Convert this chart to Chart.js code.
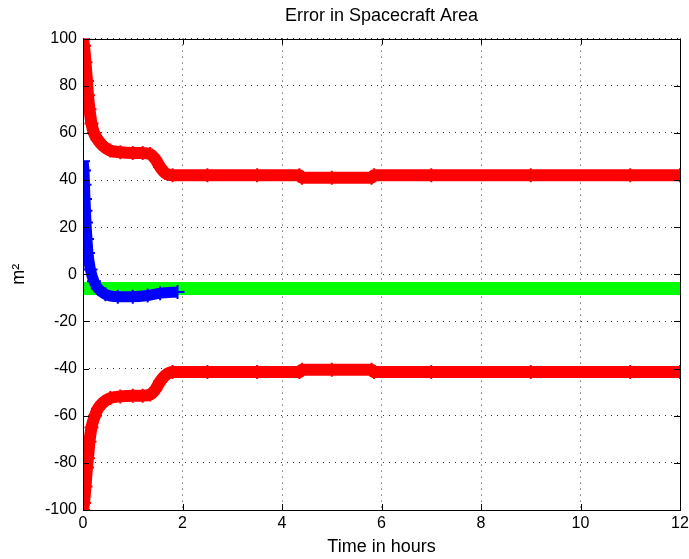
<!DOCTYPE html>
<html>
<head>
<meta charset="utf-8">
<script src="https://cdn.jsdelivr.net/npm/chart.js@4"></script>
<style>
  html, body { margin: 0; padding: 0; background: #fff; }
  #wrap { width: 689px; height: 559px; }
</style>
</head>
<body>
<div id="wrap"><canvas id="myChart" width="689" height="559"></canvas></div>
<script>
// values (hours, m^2)
const upperX = [0, 0.02, 0.05, 0.08, 0.1, 0.13, 0.17, 0.22, 0.3, 0.4, 0.55, 0.75, 1.0, 1.2, 1.35, 1.45, 1.55, 1.65, 1.8, 2.5, 3.5, 4.35, 4.4, 5.0, 5.8, 5.85, 7, 9, 11, 12];
const upperY = [100, 97, 90, 82, 76, 70, 64, 60, 57, 54.5, 52.5, 51.8, 51.5, 51.5, 51, 49, 45.5, 43, 42, 42, 42, 42, 41, 41, 41, 42, 42, 42, 42, 42];
const lowerX = [0, 0.02, 0.05, 0.08, 0.1, 0.13, 0.17, 0.24, 0.3, 0.4, 0.55, 0.75, 1.0, 1.2, 1.35, 1.45, 1.55, 1.65, 1.8, 2.5, 3.5, 4.35, 4.4, 5.0, 5.8, 5.85, 7, 9, 11, 12];
const lowerY = [-100, -97, -90, -82, -78, -71, -65, -60, -57, -54.5, -52.5, -51.8, -51.5, -51.5, -51, -49, -45.5, -43, -41.5, -41.5, -41.5, -41.5, -40.5, -40.5, -40.5, -41.5, -41.5, -41.5, -41.5, -41.5];
const estX = [0, 0.02, 0.03, 0.04, 0.05, 0.06, 0.08, 0.1, 0.15, 0.22, 0.3, 0.45, 0.7, 1.0, 1.3, 1.55, 1.9];
const estY = [48, 44, 38, 32, 27, 22, 15, 9, 2, -3, -6, -8.5, -9.5, -9.5, -9, -8, -7.5];
const meanX = [0, 12];
const meanY = [-6, -6];
const xTicks = [0, 2, 4, 6, 8, 10, 12];
const yTicks = [-100, -80, -60, -40, -20, 0, 20, 40, 60, 80, 100];

const pts = (xs, ys) => xs.map((x, i) => ({x: x, y: ys[i]}));
const FONT = 'Liberation Sans, Arial, sans-serif';

// matlab-style box with inward ticks
const boxPlugin = {
  id: 'box',
  afterDatasetsDraw(chart) {
    const {ctx, chartArea: a, scales: {x, y}} = chart;
    ctx.save();
    ctx.strokeStyle = '#000';
    ctx.lineWidth = 1;
    ctx.beginPath();
    xTicks.forEach(v => {
      const px = Math.round(x.getPixelForValue(v)) + 0.5;
      ctx.moveTo(px, a.bottom); ctx.lineTo(px, a.bottom - 6);
      ctx.moveTo(px, a.top); ctx.lineTo(px, a.top + 6);
    });
    yTicks.forEach(v => {
      const py = Math.round(y.getPixelForValue(v)) + 0.5;
      ctx.moveTo(a.left, py); ctx.lineTo(a.left + 6, py);
      ctx.moveTo(a.right, py); ctx.lineTo(a.right - 6, py);
    });
    ctx.stroke();
    ctx.strokeRect(Math.round(a.left) + 0.5, Math.round(a.top) + 0.5, Math.round(a.right - a.left), Math.round(a.bottom - a.top));
    ctx.restore();
  }
};

const line = (label, data, color, width, marker) => ({
  label: label,
  data: data,
  borderColor: color,
  backgroundColor: color,
  borderWidth: width,
  pointStyle: 'cross',
  pointRadius: marker ? 7 : 0,
  pointBorderWidth: 2,
  pointBorderColor: color,
  cubicInterpolationMode: 'monotone',
  borderCapStyle: 'butt',
  fill: false
});

new Chart(document.getElementById('myChart').getContext('2d'), {
  type: 'line',
  data: {
    datasets: [
      line('upper bound', pts(upperX, upperY), '#ff0000', 12, true),
      line('lower bound', pts(lowerX, lowerY), '#ff0000', 12, true),
      line('estimate error', pts(estX, estY), '#0000ff', 11, true),
      line('mean', pts(meanX, meanY), '#00ff00', 13, false)
    ]
  },
  options: {
    responsive: false,
    animation: false,
    layout: {padding: {left: 0, right: 8, top: 0, bottom: 0}},
    plugins: {
      legend: {display: false},
      tooltip: {enabled: false},
      title: {
        display: true,
        fullSize: false,
        text: 'Error in Spacecraft Area',
        color: '#000',
        font: {family: FONT, size: 18, weight: 'normal'},
        padding: {top: 5, bottom: 12}
      }
    },
    scales: {
      x: {
        type: 'linear',
        min: 0, max: 12,
        afterBuildTicks: s => { s.ticks = xTicks.map(v => ({value: v})); },
        afterFit: s => { s.height = 49; s.paddingLeft = 0; s.paddingRight = 0; },
        grid: {color: '#333', lineWidth: 1, drawTicks: false},
        border: {display: false, dash: [1, 5]},
        ticks: {color: '#000', padding: 4, font: {family: FONT, size: 16}},
        title: {display: true, text: 'Time in hours', color: '#000', padding: {top: 0, bottom: 1}, font: {family: FONT, size: 18}}
      },
      y: {
        type: 'linear',
        min: -100, max: 100,
        afterBuildTicks: s => { s.ticks = yTicks.map(v => ({value: v})); },
        afterFit: s => { s.width = 83; s.paddingTop = 0; s.paddingBottom = 0; },
        grid: {color: '#333', lineWidth: 1, drawTicks: false},
        border: {display: false, dash: [1, 5]},
        ticks: {color: '#000', padding: 6, font: {family: FONT, size: 16}},
        title: {display: true, text: 'm²', color: '#000', padding: {top: 8, bottom: 0}, font: {family: FONT, size: 18}}
      }
    }
  },
  plugins: [boxPlugin]
});
</script>
</body>
</html>
